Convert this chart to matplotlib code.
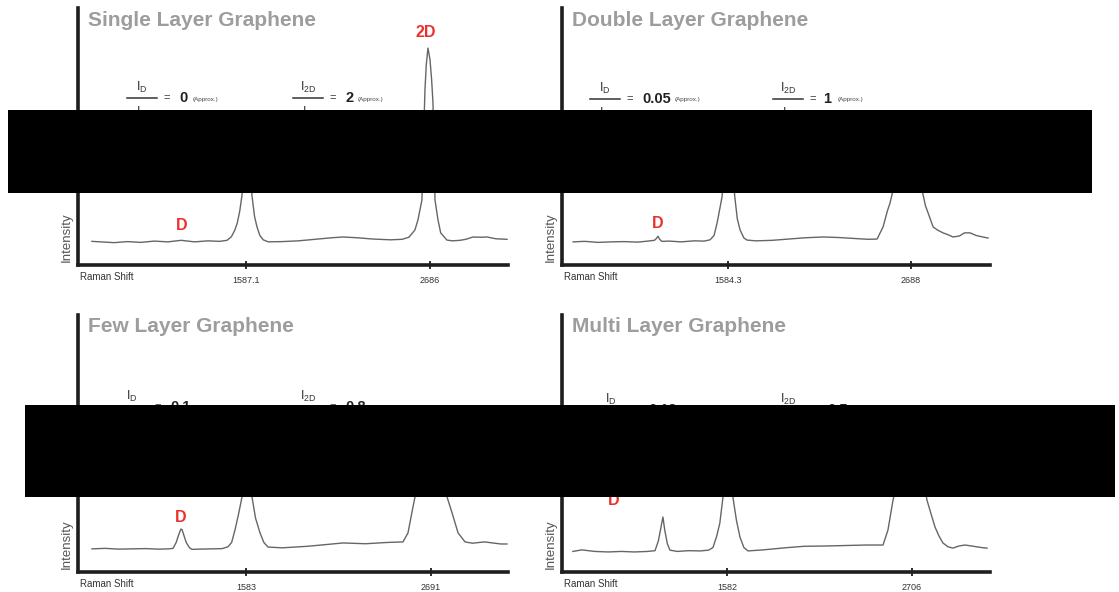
import matplotlib
matplotlib.use("Agg")
import matplotlib.pyplot as plt
from matplotlib.patches import Rectangle
from matplotlib.lines import Line2D

plt.rcParams['font.family'] = ['Liberation Sans', 'DejaVu Sans']

# ---- data (Raman shift in cm^-1, intensity in a.u.) ----
titles = ['Single Layer Graphene', 'Double Layer Graphene',
          'Few Layer Graphene', 'Multi Layer Graphene']

shift_single = [667, 720, 800, 880, 960, 1040, 1120, 1200, 1280, 1360,
                1430, 1474, 1500, 1520, 1535, 1550, 1563, 1578, 1593, 1608,
                1623, 1638, 1653, 1670, 1690, 1720, 1800, 1900, 2000, 2100,
                2166, 2250, 2346, 2450, 2520, 2560, 2596, 2614, 2626, 2638,
                2648, 2656, 2664, 2674, 2686, 2696, 2704, 2712, 2716, 2734,
                2750, 2787, 2820, 2865, 2900, 2943, 2990, 3026, 3080, 3146]
int_single = [9.2, 9.0, 8.7, 9.1, 8.8, 9.3, 9.0, 9.6, 9.0, 9.4,
              9.2, 9.6, 11, 13.5, 16.3, 21, 27, 38, 46, 40,
              27, 19, 14.8, 11.5, 9.8, 9.0, 9.1, 9.4, 10.0, 10.6,
              10.9, 10.6, 10.1, 9.8, 10.0, 10.8, 13.6, 17.5, 21.4, 25.3,
              50, 68, 78, 84.4, 80, 72, 63, 40, 25.3, 17.5,
              12.5, 9.7, 9.4, 9.6, 10.0, 10.9, 10.8, 10.9, 10.2, 10.0]

shift_double = [650, 720, 800, 880, 960, 1040, 1100, 1140, 1152, 1162,
                1172, 1185, 1230, 1300, 1380, 1440, 1476, 1500, 1518, 1535,
                1548, 1565, 1590, 1608, 1625, 1640, 1657, 1680, 1699, 1750,
                1850, 1950, 2050, 2157, 2250, 2350, 2430, 2483, 2519, 2545,
                2561, 2580, 2610, 2650, 2690, 2720, 2754, 2775, 2791, 2821,
                2850, 2881, 2910, 2941, 2980, 3010, 3044, 3080, 3120, 3152]
int_double = [9.0, 9.2, 8.8, 9.0, 9.1, 8.9, 9.3, 9.6, 10.3, 11.2,
              10.0, 9.2, 9.3, 9.0, 9.4, 9.3, 9.8, 11.5, 16.3, 22,
              26.5, 38, 48, 40, 26.5, 18, 13.6, 10.5, 9.7, 9.4,
              9.6, 10.1, 10.6, 10.9, 10.7, 10.3, 10.0, 10.1, 14.8, 21,
              24.1, 29.2, 40, 50, 52, 46, 29.2, 23, 20.2, 14.8,
              13.5, 12.5, 11.8, 10.9, 11.3, 12.5, 12.5, 11.5, 10.9, 10.5]

shift_few = [661, 740, 820, 900, 980, 1060, 1120, 1146, 1165, 1180,
             1193, 1200, 1210, 1225, 1245, 1260, 1300, 1380, 1440, 1475,
             1497, 1517, 1540, 1559, 1575, 1590, 1605, 1619, 1640, 1667,
             1690, 1715, 1800, 1950, 2050, 2164, 2300, 2430, 2523, 2553,
             2583, 2595, 2620, 2660, 2700, 2740, 2787, 2817, 2853, 2895,
             2940, 2980, 3014, 3060, 3110, 3146]
int_few = [9.0, 9.2, 8.9, 9.0, 9.1, 8.9, 9.0, 9.2, 11.5, 14.5,
           16.7, 16.5, 14.5, 11.5, 9.4, 8.8, 8.9, 9.0, 9.1, 9.8,
           11.5, 16.3, 23, 29.2, 42, 54, 50, 29.2, 21, 15.2,
           11.5, 9.7, 9.4, 10.0, 10.6, 11.3, 11.0, 11.5, 11.7, 15.2,
           25.3, 29.2, 38, 44, 46, 42, 29.2, 23, 15.2, 11.7,
           11.2, 11.5, 11.7, 11.3, 10.9, 10.9]

shift_multi = [646, 700, 780, 860, 940, 1020, 1100, 1145, 1165, 1180,
               1193, 1205, 1220, 1236, 1280, 1350, 1420, 1470, 1497, 1520,
               1539, 1558, 1575, 1590, 1605, 1618, 1640, 1661, 1685, 1710,
               1800, 1950, 2050, 2165, 2300, 2430, 2530, 2560, 2591, 2620,
               2660, 2700, 2740, 2775, 2797, 2820, 2846, 2870, 2894, 2925,
               2955, 2990, 3028, 3080, 3130, 3162]
int_multi = [8.0, 8.6, 8.0, 7.8, 8.0, 7.8, 8.0, 8.3, 12, 17,
             21.4, 16, 11, 8.5, 8.0, 8.3, 8.2, 8.5, 9.5, 14,
             19.1, 29.2, 45, 60, 55, 29.2, 20, 13.6, 9.5, 8.2,
             8.6, 9.5, 10.0, 10.1, 10.3, 10.5, 10.5, 16.3, 28, 36,
             40, 40, 38, 36, 28, 23, 17.5, 14, 11.3, 9.8,
             9.3, 10.1, 10.5, 10.0, 9.5, 9.3]

peak_ticks = [[1587.1, 2686], [1584.3, 2688], [1583, 2691], [1582, 2706]]
x_ranges = [(584, 3152), (583, 3164), (577, 3152), (580, 3180)]
ratio_id_ig = ['0', '0.05', '0.1', '0.12']
ratio_i2d_ig = ['2', '1', '0.8', '0.5']
d_label_pos = [(1205, 15.2), (1162, 16.3), (1194, 21.4), (895, 28)]

spectra = [(shift_single, int_single), (shift_double, int_double),
           (shift_few, int_few), (shift_multi, int_multi)]

W, H = 1119, 592
RED = '#e8322d'
GREY = '#9d9d9d'

fig = plt.figure(figsize=(W / 100, H / 100), dpi=100)
fig.patch.set_facecolor('white')


def fx(x):
    return x / W


def fy(y):
    return 1 - y / H


# axes boxes in pixels: left, top, right, bottom
boxes = [(78, 8, 508, 265), (562, 8, 990, 265),
         (78, 315, 508, 572), (562, 315, 990, 572)]

# fraction layout per panel: (line_left, line_y, eq_x, val_x, approx_x) for both ratios
frac_layout = [
    [(127, 98, 167, 179, 193), (293, 98, 333, 345, 358)],
    [(590, 99, 630, 642, 675), (773, 99, 813, 823, 838)],
    [(117, 407, 158, 170, 198), (293, 407, 333, 345, 372)],
    [(596, 410, 636, 648, 683), (773, 410, 813, 827, 858)],
]

for k in range(4):
    l, t, r, b = boxes[k]
    ax = fig.add_axes([fx(l), fy(b), (r - l) / W, (b - t) / H])
    xs, ys = spectra[k]
    ax.plot(xs, ys, color='#666666', lw=1.0)
    ax.set_xlim(*x_ranges[k])
    ax.set_ylim(0, 100)
    for s in ['top', 'right']:
        ax.spines[s].set_visible(False)
    for s in ['left', 'bottom']:
        ax.spines[s].set_linewidth(2.6)
        ax.spines[s].set_color('#1e1e1e')
    ax.set_yticks([])
    ax.set_xticks(peak_ticks[k])
    ax.set_xticklabels([('%g' % v) for v in peak_ticks[k]])
    ax.tick_params(axis='x', direction='inout', length=6, width=1.3,
                   labelsize=6.5, pad=5, colors='#1e1e1e', labelcolor='#333333')
    ax.set_facecolor('none')

    ax.text(0.005, -0.045, 'Raman Shift', transform=ax.transAxes,
            fontsize=7, color='#333333', va='center', ha='left')
    ax.text(-0.026, 0.11, 'Intensity', transform=ax.transAxes, rotation=90,
            fontsize=9.5, color='#555555', va='center', ha='center')

    fig.text(fx(l + 10), fy(t + 12), titles[k], fontsize=15, weight='bold',
             color=GREY, va='center', ha='left')

    dx, dy = d_label_pos[k]
    ax.text(dx, dy, 'D', color=RED, fontsize=11.5, weight='bold',
            ha='center', va='center')
    if k == 0:
        ax.text(2662, 90.3, '2D', color=RED, fontsize=11.5, weight='bold',
                ha='center', va='center')

    for j, (num, val) in enumerate([('D', ratio_id_ig[k]), ('2D', ratio_i2d_ig[k])]):
        x0, yl, xe, xv, xa = frac_layout[k][j]
        fig.add_artist(Line2D([fx(x0), fx(x0 + 30)], [fy(yl), fy(yl)],
                              transform=fig.transFigure, color='#333333', lw=1.1))
        fig.text(fx(x0 + 15), fy(yl - 3), r'$\mathregular{I_{%s}}$' % num,
                 fontsize=9, color='#333333', ha='center', va='bottom')
        fig.text(fx(x0 + 15), fy(yl + 7), r'$\mathregular{I_{G}}$',
                 fontsize=9, color='#333333', ha='center', va='top')
        fig.text(fx(xe), fy(yl), '=', fontsize=8, color='#333333',
                 ha='center', va='center')
        fig.text(fx(xv), fy(yl), val, fontsize=10.5, weight='bold',
                 color='#222222', ha='left', va='center')
        fig.text(fx(xa), fy(yl + 1), '(Approx.)', fontsize=4.5,
                 color='#444444', ha='left', va='center')

# black redaction bars across the middle of each row
bars = [(8, 110, 1092, 193), (25, 405, 1115, 497)]
for x0, y0, x1, y1 in bars:
    fig.add_artist(Rectangle((fx(x0), fy(y1)), (x1 - x0) / W, (y1 - y0) / H,
                             transform=fig.transFigure, facecolor='black',
                             edgecolor='none', zorder=10))

fig.savefig('out.png', dpi=100)
